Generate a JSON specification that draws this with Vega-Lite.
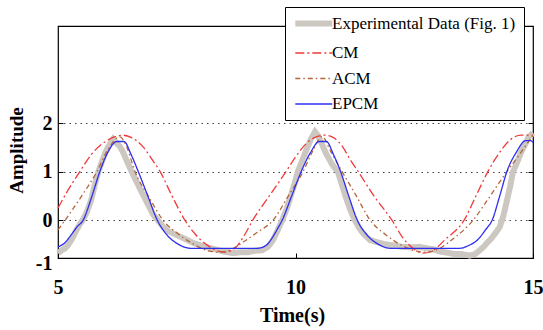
{
  "$schema": "https://vega.github.io/schema/vega-lite/v6.json",
  "width": 475,
  "height": 232,
  "autosize": "none",
  "padding": {"left": 58, "top": 26, "right": 10, "bottom": 72},
  "background": "white",
  "config": {"view": {"stroke": "black", "strokeWidth": 1.2}, "font": "Liberation Serif"},
  "datasets": {
    "d": [
      {"s":"Experimental Data (Fig. 1)","t":5.0,"v":-0.68},{"s":"Experimental Data (Fig. 1)","t":5.08,"v":-0.62},{"s":"Experimental Data (Fig. 1)","t":5.15,"v":-0.58},{"s":"Experimental Data (Fig. 1)","t":5.22,"v":-0.5},{"s":"Experimental Data (Fig. 1)","t":5.3,"v":-0.38},{"s":"Experimental Data (Fig. 1)","t":5.38,"v":-0.22},{"s":"Experimental Data (Fig. 1)","t":5.45,"v":-0.1},{"s":"Experimental Data (Fig. 1)","t":5.52,"v":0.0},{"s":"Experimental Data (Fig. 1)","t":5.6,"v":0.15},{"s":"Experimental Data (Fig. 1)","t":5.7,"v":0.42},{"s":"Experimental Data (Fig. 1)","t":5.78,"v":0.75},{"s":"Experimental Data (Fig. 1)","t":5.85,"v":1.0},{"s":"Experimental Data (Fig. 1)","t":5.93,"v":1.22},{"s":"Experimental Data (Fig. 1)","t":6.0,"v":1.4},{"s":"Experimental Data (Fig. 1)","t":6.08,"v":1.55},{"s":"Experimental Data (Fig. 1)","t":6.16,"v":1.67},{"s":"Experimental Data (Fig. 1)","t":6.22,"v":1.6},{"s":"Experimental Data (Fig. 1)","t":6.3,"v":1.52},{"s":"Experimental Data (Fig. 1)","t":6.37,"v":1.4},{"s":"Experimental Data (Fig. 1)","t":6.45,"v":1.22},{"s":"Experimental Data (Fig. 1)","t":6.55,"v":1.0},{"s":"Experimental Data (Fig. 1)","t":6.65,"v":0.8},{"s":"Experimental Data (Fig. 1)","t":6.75,"v":0.6},{"s":"Experimental Data (Fig. 1)","t":6.88,"v":0.35},{"s":"Experimental Data (Fig. 1)","t":7.0,"v":0.12},{"s":"Experimental Data (Fig. 1)","t":7.1,"v":0.0},{"s":"Experimental Data (Fig. 1)","t":7.2,"v":-0.12},{"s":"Experimental Data (Fig. 1)","t":7.3,"v":-0.22},{"s":"Experimental Data (Fig. 1)","t":7.42,"v":-0.27},{"s":"Experimental Data (Fig. 1)","t":7.55,"v":-0.33},{"s":"Experimental Data (Fig. 1)","t":7.7,"v":-0.4},{"s":"Experimental Data (Fig. 1)","t":7.85,"v":-0.47},{"s":"Experimental Data (Fig. 1)","t":8.0,"v":-0.52},{"s":"Experimental Data (Fig. 1)","t":8.15,"v":-0.56},{"s":"Experimental Data (Fig. 1)","t":8.3,"v":-0.6},{"s":"Experimental Data (Fig. 1)","t":8.5,"v":-0.65},{"s":"Experimental Data (Fig. 1)","t":8.68,"v":-0.68},{"s":"Experimental Data (Fig. 1)","t":8.85,"v":-0.66},{"s":"Experimental Data (Fig. 1)","t":9.0,"v":-0.66},{"s":"Experimental Data (Fig. 1)","t":9.15,"v":-0.63},{"s":"Experimental Data (Fig. 1)","t":9.3,"v":-0.62},{"s":"Experimental Data (Fig. 1)","t":9.42,"v":-0.55},{"s":"Experimental Data (Fig. 1)","t":9.52,"v":-0.42},{"s":"Experimental Data (Fig. 1)","t":9.62,"v":-0.22},{"s":"Experimental Data (Fig. 1)","t":9.72,"v":0.0},{"s":"Experimental Data (Fig. 1)","t":9.82,"v":0.25},{"s":"Experimental Data (Fig. 1)","t":9.9,"v":0.5},{"s":"Experimental Data (Fig. 1)","t":9.98,"v":0.75},{"s":"Experimental Data (Fig. 1)","t":10.05,"v":1.0},{"s":"Experimental Data (Fig. 1)","t":10.15,"v":1.25},{"s":"Experimental Data (Fig. 1)","t":10.25,"v":1.5},{"s":"Experimental Data (Fig. 1)","t":10.33,"v":1.68},{"s":"Experimental Data (Fig. 1)","t":10.41,"v":1.82},{"s":"Experimental Data (Fig. 1)","t":10.47,"v":1.75},{"s":"Experimental Data (Fig. 1)","t":10.55,"v":1.58},{"s":"Experimental Data (Fig. 1)","t":10.65,"v":1.36},{"s":"Experimental Data (Fig. 1)","t":10.77,"v":1.15},{"s":"Experimental Data (Fig. 1)","t":10.89,"v":1.0},{"s":"Experimental Data (Fig. 1)","t":10.97,"v":0.75},{"s":"Experimental Data (Fig. 1)","t":11.05,"v":0.5},{"s":"Experimental Data (Fig. 1)","t":11.15,"v":0.22},{"s":"Experimental Data (Fig. 1)","t":11.25,"v":0.0},{"s":"Experimental Data (Fig. 1)","t":11.35,"v":-0.18},{"s":"Experimental Data (Fig. 1)","t":11.45,"v":-0.3},{"s":"Experimental Data (Fig. 1)","t":11.57,"v":-0.41},{"s":"Experimental Data (Fig. 1)","t":11.7,"v":-0.45},{"s":"Experimental Data (Fig. 1)","t":11.85,"v":-0.49},{"s":"Experimental Data (Fig. 1)","t":12.05,"v":-0.52},{"s":"Experimental Data (Fig. 1)","t":12.25,"v":-0.55},{"s":"Experimental Data (Fig. 1)","t":12.45,"v":-0.56},{"s":"Experimental Data (Fig. 1)","t":12.6,"v":-0.55},{"s":"Experimental Data (Fig. 1)","t":12.77,"v":-0.58},{"s":"Experimental Data (Fig. 1)","t":12.9,"v":-0.6},{"s":"Experimental Data (Fig. 1)","t":13.05,"v":-0.65},{"s":"Experimental Data (Fig. 1)","t":13.2,"v":-0.67},{"s":"Experimental Data (Fig. 1)","t":13.35,"v":-0.7},{"s":"Experimental Data (Fig. 1)","t":13.5,"v":-0.7},{"s":"Experimental Data (Fig. 1)","t":13.67,"v":-0.73},{"s":"Experimental Data (Fig. 1)","t":13.78,"v":-0.7},{"s":"Experimental Data (Fig. 1)","t":13.88,"v":-0.62},{"s":"Experimental Data (Fig. 1)","t":13.96,"v":-0.55},{"s":"Experimental Data (Fig. 1)","t":14.03,"v":-0.47},{"s":"Experimental Data (Fig. 1)","t":14.12,"v":-0.38},{"s":"Experimental Data (Fig. 1)","t":14.2,"v":-0.28},{"s":"Experimental Data (Fig. 1)","t":14.3,"v":-0.14},{"s":"Experimental Data (Fig. 1)","t":14.38,"v":0.1},{"s":"Experimental Data (Fig. 1)","t":14.45,"v":0.4},{"s":"Experimental Data (Fig. 1)","t":14.52,"v":0.7},{"s":"Experimental Data (Fig. 1)","t":14.58,"v":1.0},{"s":"Experimental Data (Fig. 1)","t":14.67,"v":1.2},{"s":"Experimental Data (Fig. 1)","t":14.75,"v":1.4},{"s":"Experimental Data (Fig. 1)","t":14.83,"v":1.55},{"s":"Experimental Data (Fig. 1)","t":14.9,"v":1.7},{"s":"Experimental Data (Fig. 1)","t":15.0,"v":1.8},
      {"s":"CM","t":5.0,"v":0.25},{"s":"CM","t":5.2,"v":0.6},{"s":"CM","t":5.46,"v":1.0},{"s":"CM","t":5.7,"v":1.35},{"s":"CM","t":6.0,"v":1.62},{"s":"CM","t":6.2,"v":1.72},{"s":"CM","t":6.37,"v":1.75},{"s":"CM","t":6.55,"v":1.7},{"s":"CM","t":6.8,"v":1.5},{"s":"CM","t":7.0,"v":1.22},{"s":"CM","t":7.15,"v":1.0},{"s":"CM","t":7.4,"v":0.5},{"s":"CM","t":7.67,"v":0.0},{"s":"CM","t":7.9,"v":-0.3},{"s":"CM","t":8.15,"v":-0.52},{"s":"CM","t":8.35,"v":-0.63},{"s":"CM","t":8.5,"v":-0.66},{"s":"CM","t":8.7,"v":-0.6},{"s":"CM","t":8.9,"v":-0.35},{"s":"CM","t":9.1,"v":0.0},{"s":"CM","t":9.45,"v":0.5},{"s":"CM","t":9.8,"v":1.0},{"s":"CM","t":10.0,"v":1.3},{"s":"CM","t":10.2,"v":1.55},{"s":"CM","t":10.4,"v":1.7},{"s":"CM","t":10.62,"v":1.75},{"s":"CM","t":10.8,"v":1.7},{"s":"CM","t":11.0,"v":1.5},{"s":"CM","t":11.15,"v":1.25},{"s":"CM","t":11.32,"v":1.0},{"s":"CM","t":11.65,"v":0.5},{"s":"CM","t":12.03,"v":0.0},{"s":"CM","t":12.25,"v":-0.35},{"s":"CM","t":12.5,"v":-0.6},{"s":"CM","t":12.68,"v":-0.68},{"s":"CM","t":12.9,"v":-0.62},{"s":"CM","t":13.15,"v":-0.4},{"s":"CM","t":13.55,"v":0.0},{"s":"CM","t":13.8,"v":0.5},{"s":"CM","t":14.05,"v":1.0},{"s":"CM","t":14.3,"v":1.4},{"s":"CM","t":14.55,"v":1.68},{"s":"CM","t":14.75,"v":1.75},{"s":"CM","t":15.0,"v":1.75},
      {"s":"ACM","t":5.0,"v":-0.2},{"s":"ACM","t":5.15,"v":0.0},{"s":"ACM","t":5.5,"v":0.5},{"s":"ACM","t":5.82,"v":1.0},{"s":"ACM","t":6.05,"v":1.45},{"s":"ACM","t":6.3,"v":1.72},{"s":"ACM","t":6.45,"v":1.5},{"s":"ACM","t":6.62,"v":1.0},{"s":"ACM","t":6.9,"v":0.5},{"s":"ACM","t":7.21,"v":0.0},{"s":"ACM","t":7.55,"v":-0.3},{"s":"ACM","t":7.9,"v":-0.52},{"s":"ACM","t":8.15,"v":-0.63},{"s":"ACM","t":8.4,"v":-0.66},{"s":"ACM","t":8.65,"v":-0.6},{"s":"ACM","t":8.9,"v":-0.45},{"s":"ACM","t":9.2,"v":-0.25},{"s":"ACM","t":9.53,"v":0.0},{"s":"ACM","t":9.85,"v":0.5},{"s":"ACM","t":10.16,"v":1.0},{"s":"ACM","t":10.35,"v":1.4},{"s":"ACM","t":10.56,"v":1.72},{"s":"ACM","t":10.75,"v":1.4},{"s":"ACM","t":10.98,"v":1.0},{"s":"ACM","t":11.28,"v":0.5},{"s":"ACM","t":11.57,"v":0.0},{"s":"ACM","t":11.9,"v":-0.3},{"s":"ACM","t":12.3,"v":-0.55},{"s":"ACM","t":12.55,"v":-0.64},{"s":"ACM","t":12.77,"v":-0.66},{"s":"ACM","t":13.0,"v":-0.6},{"s":"ACM","t":13.3,"v":-0.4},{"s":"ACM","t":13.74,"v":0.0},{"s":"ACM","t":14.1,"v":0.5},{"s":"ACM","t":14.45,"v":1.0},{"s":"ACM","t":14.75,"v":1.4},{"s":"ACM","t":15.0,"v":1.75},
      {"s":"EPCM","t":5.0,"v":-0.55},{"s":"EPCM","t":5.14,"v":-0.47},{"s":"EPCM","t":5.28,"v":-0.3},{"s":"EPCM","t":5.4,"v":-0.14},{"s":"EPCM","t":5.53,"v":0.0},{"s":"EPCM","t":5.7,"v":0.45},{"s":"EPCM","t":5.88,"v":1.0},{"s":"EPCM","t":6.05,"v":1.4},{"s":"EPCM","t":6.24,"v":1.62},{"s":"EPCM","t":6.39,"v":1.62},{"s":"EPCM","t":6.54,"v":1.35},{"s":"EPCM","t":6.69,"v":1.0},{"s":"EPCM","t":6.89,"v":0.5},{"s":"EPCM","t":7.09,"v":0.0},{"s":"EPCM","t":7.29,"v":-0.3},{"s":"EPCM","t":7.54,"v":-0.5},{"s":"EPCM","t":7.79,"v":-0.58},{"s":"EPCM","t":9.2,"v":-0.58},{"s":"EPCM","t":9.38,"v":-0.52},{"s":"EPCM","t":9.52,"v":-0.35},{"s":"EPCM","t":9.62,"v":-0.18},{"s":"EPCM","t":9.72,"v":0.0},{"s":"EPCM","t":9.92,"v":0.5},{"s":"EPCM","t":10.12,"v":1.0},{"s":"EPCM","t":10.32,"v":1.4},{"s":"EPCM","t":10.5,"v":1.62},{"s":"EPCM","t":10.65,"v":1.62},{"s":"EPCM","t":10.8,"v":1.35},{"s":"EPCM","t":10.95,"v":1.0},{"s":"EPCM","t":11.12,"v":0.5},{"s":"EPCM","t":11.3,"v":0.0},{"s":"EPCM","t":11.5,"v":-0.3},{"s":"EPCM","t":11.75,"v":-0.5},{"s":"EPCM","t":12.0,"v":-0.58},{"s":"EPCM","t":13.45,"v":-0.58},{"s":"EPCM","t":13.65,"v":-0.52},{"s":"EPCM","t":13.84,"v":-0.4},{"s":"EPCM","t":14.0,"v":-0.2},{"s":"EPCM","t":14.14,"v":0.0},{"s":"EPCM","t":14.3,"v":0.5},{"s":"EPCM","t":14.45,"v":1.0},{"s":"EPCM","t":14.65,"v":1.4},{"s":"EPCM","t":14.85,"v":1.64},{"s":"EPCM","t":14.95,"v":1.64},{"s":"EPCM","t":15.0,"v":1.6}
    ]
  },
  "data": {"name": "d"},
  "encoding": {
    "x": {
      "field": "t", "type": "quantitative",
      "scale": {"domain": [5, 15], "nice": false, "zero": false},
      "axis": {
        "values": [5, 10, 15], "grid": false, "domain": false,
        "labelFlush": false, "labelFont": "Liberation Serif", "labelFontSize": 20, "labelFontWeight": "bold", "labelColor": "black",
        "labelPadding": 24, "tickSize": -5, "tickColor": "black", "tickWidth": 1,
        "title": "Time(s)", "titleFont": "Liberation Serif", "titleFontSize": 20, "titleFontWeight": "bold", "titleColor": "black",
        "titleX": 234, "titleY": 47, "titleBaseline": "top"
      }
    },
    "color": {
      "field": "s", "type": "nominal",
      "scale": {"domain": ["Experimental Data (Fig. 1)", "CM", "ACM", "EPCM"], "range": ["#ccc8c1", "#f03a3a", "#b5643a", "#2e2ef0"]},
      "legend": {
        "orient": "none", "legendX": 227, "legendY": -19, "title": null,
        "strokeColor": "black", "fillColor": "white", "padding": 8,
        "labelFont": "Liberation Serif", "labelFontSize": 17, "labelColor": "black", "labelLimit": 300,
        "symbolType": "M-3,0H3", "symbolSize": 152, "symbolOffset": 12.3, "labelOffset": 9.7, "rowPadding": 7.5,
        "encode": {"symbols": {"update": {"strokeWidth": {"signal": "datum.value === 'Experimental Data (Fig. 1)' ? 6 : 1.3"}}}}
      }
    },
    "strokeDash": {
      "field": "s", "type": "nominal",
      "scale": {"domain": ["Experimental Data (Fig. 1)", "CM", "ACM", "EPCM"], "range": [[1, 0], [9, 3, 2, 3], [5, 3, 1.5, 3], [1, 0]]},
      "legend": {
        "orient": "none", "legendX": 227, "legendY": -19, "title": null,
        "strokeColor": "black", "fillColor": "white", "padding": 8,
        "labelFont": "Liberation Serif", "labelFontSize": 17, "labelColor": "black", "labelLimit": 300,
        "symbolType": "M-3,0H3", "symbolSize": 152, "symbolOffset": 12.3, "labelOffset": 9.7, "rowPadding": 7.5,
        "encode": {"symbols": {"update": {"strokeWidth": {"signal": "datum.value === 'Experimental Data (Fig. 1)' ? 6 : 1.3"}}}}
      }
    }
  },
  "layer": [
    {
      "transform": [{"filter": "datum.s === 'Experimental Data (Fig. 1)'"}],
      "mark": {"type": "line", "strokeWidth": 6},
      "encoding": {
        "y": {
          "field": "v", "type": "quantitative",
          "scale": {"domain": [-0.78, 4], "nice": false, "zero": false},
          "axis": {
            "values": [-0.78, 0, 1, 2],
            "labelExpr": "datum.value < -0.5 ? '-1' : '' + datum.value",
            "labelFont": "Liberation Serif", "labelFontSize": 20, "labelFontWeight": "bold", "labelColor": "black",
            "labelPadding": 11,
            "labelOffset": {"condition": {"test": "datum.value < -0.5", "value": 5}, "value": 0},
            "domain": false, "tickSize": -5, "tickColor": "black",
            "tickOpacity": {"condition": {"test": "datum.value < -0.5", "value": 0}, "value": 1},
            "grid": true, "gridColor": "#444444", "gridDash": [1.5, 4], "gridWidth": 1.2,
            "gridOpacity": {"condition": {"test": "datum.value < -0.5", "value": 0}, "value": 1},
            "title": "Amplitude", "titleFont": "Liberation Serif", "titleFontSize": 19, "titleFontWeight": "bold", "titleColor": "black",
            "titleX": -32, "titleY": 124, "titleAngle": 270, "titleBaseline": "bottom", "titleAlign": "center"
          }
        }
      }
    },
    {
      "transform": [{"filter": "datum.s === 'CM'"}],
      "mark": {"type": "line", "strokeWidth": 1.3, "interpolate": "monotone"},
      "encoding": {"y": {"field": "v", "type": "quantitative", "axis": null}}
    },
    {
      "transform": [{"filter": "datum.s === 'ACM'"}],
      "mark": {"type": "line", "strokeWidth": 1.3, "interpolate": "monotone"},
      "encoding": {"y": {"field": "v", "type": "quantitative", "axis": null}}
    },
    {
      "transform": [{"filter": "datum.s === 'EPCM'"}],
      "mark": {"type": "line", "strokeWidth": 1.3, "interpolate": "monotone"},
      "encoding": {
        "y": {
          "field": "v", "type": "quantitative",
          "axis": {"orient": "right", "values": [0, 1, 2], "labels": false, "grid": false, "domain": false, "tickSize": -5, "tickColor": "black", "title": null}
        }
      }
    }
  ],
  "resolve": {"axis": {"y": "independent"}}
}
